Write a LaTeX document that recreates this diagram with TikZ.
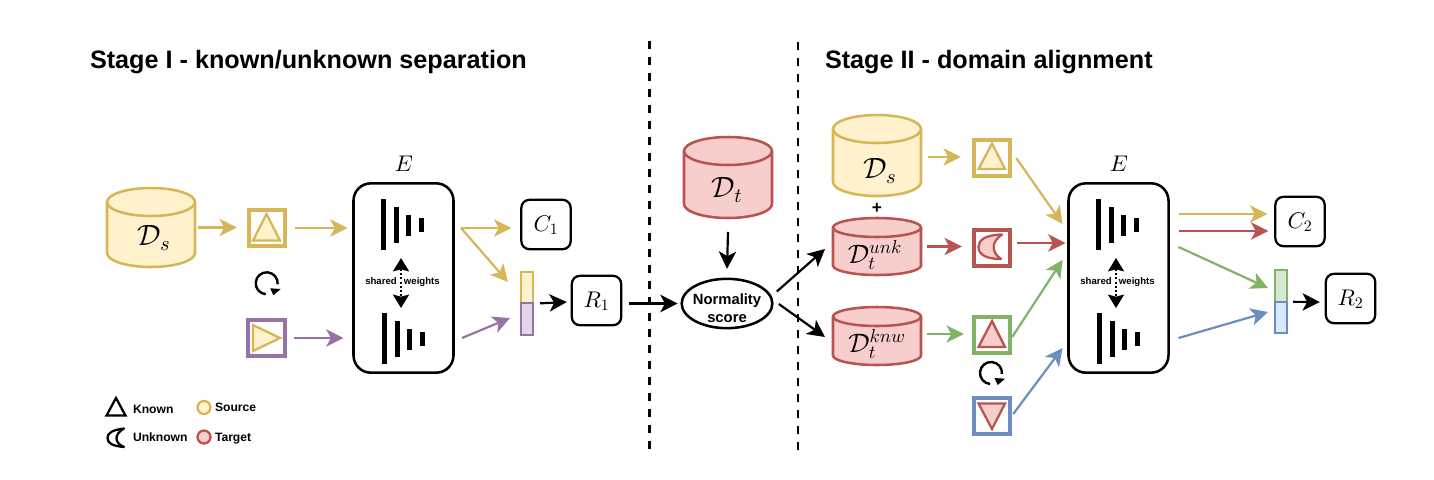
\documentclass[tikz,border=0pt]{standalone}
\usepackage[no-math]{fontspec}
\setmainfont{Liberation Sans}
\DeclareFontShape{OML}{cmm}{m}{it}{<->cmmi10}{}
\DeclareFontShape{OMS}{cmsy}{m}{n}{<->cmsy10}{}
\DeclareFontShape{OT1}{cmr}{m}{n}{<->cmr10}{}
\usetikzlibrary{arrows.meta,calc,shapes.geometric}
\definecolor{ylS}{HTML}{D6B656}\definecolor{ylF}{HTML}{FFF2CC}
\definecolor{rdS}{HTML}{B85450}\definecolor{rdF}{HTML}{F8CECC}
\definecolor{gnS}{HTML}{82B366}\definecolor{gnF}{HTML}{D5E8D4}
\definecolor{blS}{HTML}{6C8EBF}\definecolor{blF}{HTML}{DAE8FC}
\definecolor{puS}{HTML}{9673A6}\definecolor{puF}{HTML}{E1D5E7}
\tikzset{
  x=0.75pt,y=-0.75pt,
  every node/.style={inner sep=0pt,outer sep=0pt},
  arr/.style={line width=1.65pt,-{Stealth[length=13pt,width=13pt,inset=3.5pt]}},
  blackarr/.style={arr,draw=black,color=black},
  sqbox/.style={rectangle,line width=2.8pt,minimum width=27.3pt,minimum height=27.3pt,fill=white},
  shape in/.style={line width=1.7pt,line join=miter},
  rbox/.style={rectangle,draw=black,rounded corners=6pt,line width=1.7pt,fill=white,minimum width=37pt,minimum height=37pt},
  encbox/.style={rectangle,draw=black,rounded corners=13pt,line width=1.9pt,minimum width=75pt,minimum height=142pt},
  barcell/.style={rectangle,line width=1.7pt,minimum width=9pt,minimum height=23.5pt},
  ghost/.style={rectangle,minimum width=66pt},
  mlabel/.style={font=\fontsize{17}{20}\selectfont},
  dlabel/.style={font=\fontsize{22}{26}\selectfont},
  dsuplabel/.style={font=\fontsize{20}{24}\selectfont},
  title/.style={font=\fontsize{18.9}{22}\selectfont\bfseries,anchor=west},
  legend/.style={font=\fontsize{9.1}{11}\selectfont\bfseries,anchor=west},
  sharedtxt/.style={font=\fontsize{7.2}{9}\selectfont\bfseries},
  divider/.style={line width=1.9pt,dash pattern=on 6pt off 6pt},
  swarr/.style={line width=1.7pt,dash pattern=on 1.6pt off 1.6pt,{Stealth[length=10pt,width=12pt,inset=1.5pt]}-{Stealth[length=10pt,width=12pt,inset=1.5pt]}},
}
% name, cx, top, bottom, ry, fill, stroke
\newcommand\cyl[7]{%
  \draw[line width=1.9pt,fill=#6,draw=#7]
    ({#2-44},{#3+#5}) -- ({#2-44},{#4-#5})
    arc[start angle=180,end angle=0,x radius=44,y radius=#5]
    -- ({#2+44},{#3+#5})
    arc[start angle=0,end angle=-180,x radius=44,y radius=#5] -- cycle;
  \draw[line width=1.9pt,draw=#7]
    ({#2-44},{#3+#5}) arc[start angle=180,end angle=0,x radius=44,y radius=#5];
  \pgfmathsetmacro\cylh{(#4-#3)*0.75}
  \node[ghost,minimum height=\cylh pt] (#1) at (#2,{(#3+#4)/2}) {};
}
% x offset, y offset
\newcommand\encbars[2]{%
  \fill ({#1},{199+#2}) rectangle ({#1+5},{250+#2});
  \fill ({#1+12.5},{207+#2}) rectangle ({#1+17.5},{243+#2});
  \fill ({#1+25},{215+#2}) rectangle ({#1+30},{236+#2});
  \fill ({#1+38},{218+#2}) rectangle ({#1+43},{232+#2});
}
% circular arrow: centre x, y
\newcommand\loopsym[2]{%
  \draw[line width=1.8pt] ({#1+11*cos(95)},{#2+11*sin(95)}) arc[start angle=95,end angle=365,radius=11];
  \fill ({#1+6.7},{#2+12}) -- ({#1+3.5},{#2+5}) -- ({#1+14},{#2+5.7}) -- cycle;
}
\begin{document}
\begin{tikzpicture}
\useasboundingbox (0,0) rectangle (1434,479);
\fill[white] (0,0) rectangle (1434,479);

% titles
\node[title] (t1) at (90,62) {Stage I - known/unknown separation};
\node[title] (t2) at (825,62) {Stage II - domain alignment};

% dividers
\coordinate (d1a) at (649.5,41); \coordinate (d1b) at (649.5,450);
\coordinate (d2a) at (798,42); \coordinate (d2b) at (798,450);
\draw[divider] (d1a) -- (d1b);
\draw[divider] (d2a) -- (d2b);

% ---- stage I
\cyl{dsa}{151}{188}{267}{14}{ylF}{ylS}
\node[dlabel] (dsal) at (154,238) {$\mathcal{D}_s$};
\node[sqbox,draw=ylS] (sa) at (267,228) {};
\draw[shape in,draw=ylS,fill=ylF] (266.5,214) -- (280,240.5) -- (253,240.5) -- cycle;
\node[sqbox,draw=puS] (sb) at (266.5,338) {};
\draw[shape in,draw=ylS,fill=ylF] (253,325) -- (280,338) -- (253,351) -- cycle;
\loopsym{266.7}{283.3}

\node[encbox] (ea) at (403.5,278) {};
\node[mlabel] (eal) at (404,164) {$E$};
\encbars{381}{0}
\encbars{382}{114}
\coordinate (swa1) at (401,258); \coordinate (swa2) at (401,308);
\draw[swarr] (swa1) -- (swa2);
\node[sharedtxt] (swat) at (402.5,282) {shared\hspace{0.75em}weights};

\node[rbox] (c1) at (546,224.5) {};
\node[mlabel] (c1l) at (546,225) {$C_1$};
\node[rbox] (r1) at (596.5,300.5) {};
\node[mlabel] (r1l) at (596.5,301) {$R_1$};
\node[barcell,draw=ylS,fill=ylF] (ba) at (527,287.5) {};
\node[barcell,draw=puS,fill=puF] (bb) at (527,319) {};

\draw[arr,draw=ylS,color=ylS] ([shift={(3,0)}]dsa.east) -- ([shift={(-12,0)}]sa.west |- dsa.east);
\draw[arr,draw=ylS,color=ylS] ([shift={(10,0)}]sa.east) -- ([shift={(-6,0)}]ea.west |- sa.east);
\draw[arr,draw=puS,color=puS] ([shift={(9,0)}]sb.east) -- ([shift={(-10,0)}]ea.west |- sb.east);
\coordinate (ysp) at ([shift={(7.5,3.5)}]ea.east |- c1.west);
\draw[arr,draw=ylS,color=ylS] (ysp) -- ([shift={(-10,3.5)}]c1.west);
\draw[arr,draw=ylS,color=ylS] (ysp) -- ([shift={(-13,-5.5)}]ba.west);
\draw[arr,draw=puS,color=puS] ([shift={(8.5,60)}]ea.east) -- ([shift={(-11,-1)}]bb.west);
\draw[blackarr] ([shift={(7,0)}]bb.north east) -- ([shift={(-5,1.5)}]r1.west);

% ---- middle
\cyl{dt}{728}{137}{218}{14}{rdF}{rdS}
\node[dlabel] (dtl) at (727,190) {$\mathcal{D}_t$};
\node[draw=black,line width=1.9pt,ellipse,minimum width=68pt,minimum height=37pt,fill=white] (ns) at (727,303.5) {};
\node[font=\fontsize{11.1}{13.5}\selectfont\bfseries,align=center] (nst) at (727,308) {Normality\\score};
\draw[blackarr] ([shift={(8,3)}]r1.east) -- ([shift={(-4,0)}]ns.west);
\draw[blackarr] ([shift={(0,14)}]dt.south) -- ([shift={(0,-10)}]ns.north);

% ---- stage II
\cyl{dsb}{877}{115}{196}{14}{ylF}{ylS}
\node[dlabel] (dsbl) at (880,171) {$\mathcal{D}_s$};
\node[font=\fontsize{13}{14}\selectfont\bfseries] (plus) at (877,208.5) {+};
\cyl{dun}{877}{218}{275}{9.5}{rdF}{rdS}
\node[dsuplabel] (dunl) at (875,255) {$\mathcal{D}_t^{unk}$};
\cyl{dkn}{877}{307}{365}{9.5}{rdF}{rdS}
\node[dsuplabel] (dknl) at (877,344) {$\mathcal{D}_t^{knw}$};

\node[sqbox,draw=ylS] (s1) at (992,158) {};
\draw[shape in,draw=ylS,fill=ylF] (992,143.5) -- (1005,169) -- (978.5,169) -- cycle;
\node[sqbox,draw=rdS] (s2) at (992,248) {};
\draw[shape in,draw=rdS,fill=rdF,line join=round] (1002,234.5) .. controls (985,235) and (978.5,240) .. (978.5,247) .. controls (978.5,255) and (987,259) .. (1001,259) .. controls (991,252) and (991,242) .. cycle;
\node[sqbox,draw=gnS] (s3) at (992,335) {};
\draw[shape in,draw=rdS,fill=rdF] (992,321) -- (1005,347) -- (978.5,347) -- cycle;
\node[sqbox,draw=blS] (s4) at (992,416) {};
\draw[shape in,draw=rdS,fill=rdF] (992,429) -- (1005,403.5) -- (978.5,403.5) -- cycle;
\loopsym{991}{373}

\node[encbox] (eb) at (1118.5,278) {};
\node[mlabel] (ebl) at (1119,164) {$E$};
\encbars{1096}{0}
\encbars{1097}{114}
\coordinate (swb1) at (1116,258); \coordinate (swb2) at (1116,308);
\draw[swarr] (swb1) -- (swb2);
\node[sharedtxt] (swbt) at (1117.5,282) {shared\hspace{0.75em}weights};

\node[rbox] (c2) at (1300,221.5) {};
\node[mlabel] (c2l) at (1300,222) {$C_2$};
\node[rbox] (r2) at (1350.5,298.5) {};
\node[mlabel] (r2l) at (1350.5,299) {$R_2$};
\node[barcell,draw=gnS,fill=gnF] (bc) at (1281,286) {};
\node[barcell,draw=blS,fill=blF] (bd) at (1281,317.5) {};

\draw[blackarr] ([shift={(4.5,-12)}]ns.east) -- ([shift={(-8,2.5)}]dun.west);
\draw[blackarr] ([shift={(6.5,0.5)}]ns.east) -- ([shift={(-8,1)}]dkn.west);

\draw[arr,draw=ylS,color=ylS] ([shift={(7,1.5)}]dsb.east) -- ([shift={(-13,1.5)}]s1.west |- dsb.east);
\draw[arr,draw=rdS,color=rdS] ([shift={(6,0)}]dun.east) -- ([shift={(-12,0)}]s2.west |- dun.east);
\draw[arr,draw=gnS,color=gnS] ([shift={(6,-2)}]dkn.east) -- ([shift={(-10,-1)}]s3.west);

\draw[arr,draw=ylS,color=ylS] ([shift={(6,0)}]s1.east) -- ([shift={(-6,-54)}]eb.west);
\draw[arr,draw=rdS,color=rdS] ([shift={(7,-5)}]s2.east) -- ([shift={(-3,-35)}]eb.west);
\draw[arr,draw=gnS,color=gnS] ([shift={(2,2)}]s3.east) -- ([shift={(-6,-18)}]eb.west);
\draw[arr,draw=blS,color=blS] ([shift={(3,-2)}]s4.east) -- ([shift={(-6,70)}]eb.west);

\draw[arr,draw=ylS,color=ylS] ([shift={(10,-64)}]eb.east) -- ([shift={(-8,-7.5)}]c2.west);
\draw[arr,draw=rdS,color=rdS] ([shift={(10,-47)}]eb.east) -- ([shift={(-7,9.5)}]c2.west);
\draw[arr,draw=gnS,color=gnS] ([shift={(10,-31)}]eb.east) -- ([shift={(-7,2)}]bc.west);
\draw[arr,draw=blS,color=blS] ([shift={(10,60)}]eb.east) -- ([shift={(-7,-5.5)}]bd.west);
\draw[blackarr] ([shift={(6,0)}]bd.north east) -- ([shift={(-6,3.5)}]r2.west);

% ---- legend
\draw[line width=1.7pt,line join=miter] (116,398) -- (125.5,415.5) -- (106.5,415.5) -- cycle;
\draw[line width=1.7pt,line join=round] (124,428.5) .. controls (112,430) and (107.5,433) .. (107.5,438) .. controls (107.5,443) and (112,446) .. (124,447) .. controls (114,443) and (114,434) .. cycle;
\node[legend] (lk) at (133,409.5) {Known};
\node[legend] (lu) at (133,437) {Unknown};
\draw[line width=1.7pt,draw=ylS,fill=ylF] (204,407.5) circle (6.5);
\draw[line width=1.7pt,draw=rdS,fill=rdF] (204,437) circle (6.5);
\node[legend] (ls) at (215,407.5) {Source};
\node[legend] (lt) at (215,438.5) {Target};
\end{tikzpicture}
\end{document}
